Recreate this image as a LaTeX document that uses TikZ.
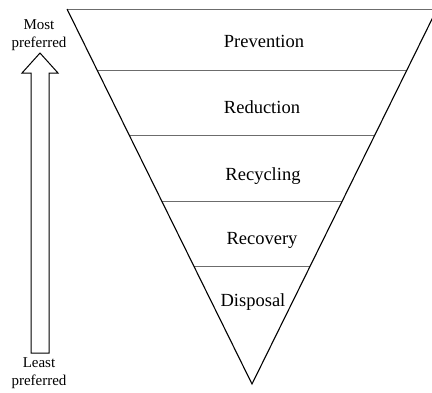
\documentclass[tikz,border=0pt]{standalone}
\usepackage{fontspec}
\setmainfont{Liberation Serif}
\usetikzlibrary{calc}
\begin{document}
\begin{tikzpicture}[x=1pt,y=-1pt,
  edge/.style={black,line width=1.1pt,line join=miter},
  level/.style={gray!85!black,line width=0.9pt},
  lvltext/.style={font=\fontsize{18.5}{22}\selectfont,inner sep=0pt},
  sidetext/.style={font=\fontsize{15}{18.5}\selectfont,align=center,inner sep=0pt},
  blockarrow/.style={black,line width=1pt,line join=miter,fill=white}]
\useasboundingbox (0,0) rectangle (432,392);
\clip (0,0) rectangle (432,392);
\coordinate (TL) at (67,9);
\coordinate (TR) at (437,9);
\coordinate (B) at (252,384);
% top line
\draw[level] (TL) -- (TR);
% levels
\foreach \t in {0.163,0.337,0.513,0.687}{
  \draw[level] ($(TL)!\t!(B)$) -- ($(TR)!\t!(B)$);
}
% sides
\draw[edge] (TL) -- (B) -- (TR);
% labels
\node[lvltext] (prev) at (264,41) {Prevention};
\node[lvltext] (red) at (262,107) {Reduction};
\node[lvltext] (recyc) at (263,176) {Recycling};
\node[lvltext] (recov) at (262,240) {Recovery};
\node[lvltext] (disp) at (253,302) {Disposal};
% side arrow
\draw[blockarrow] (31,353) -- (31,73) -- (22,73) -- (40,53) -- (58,73) -- (49,73) -- (49,353) -- cycle;
\node[sidetext] (most) at (39,35) {Most\\preferred};
\node[sidetext] (least) at (39,373) {Least\\preferred};
\end{tikzpicture}
\end{document}
